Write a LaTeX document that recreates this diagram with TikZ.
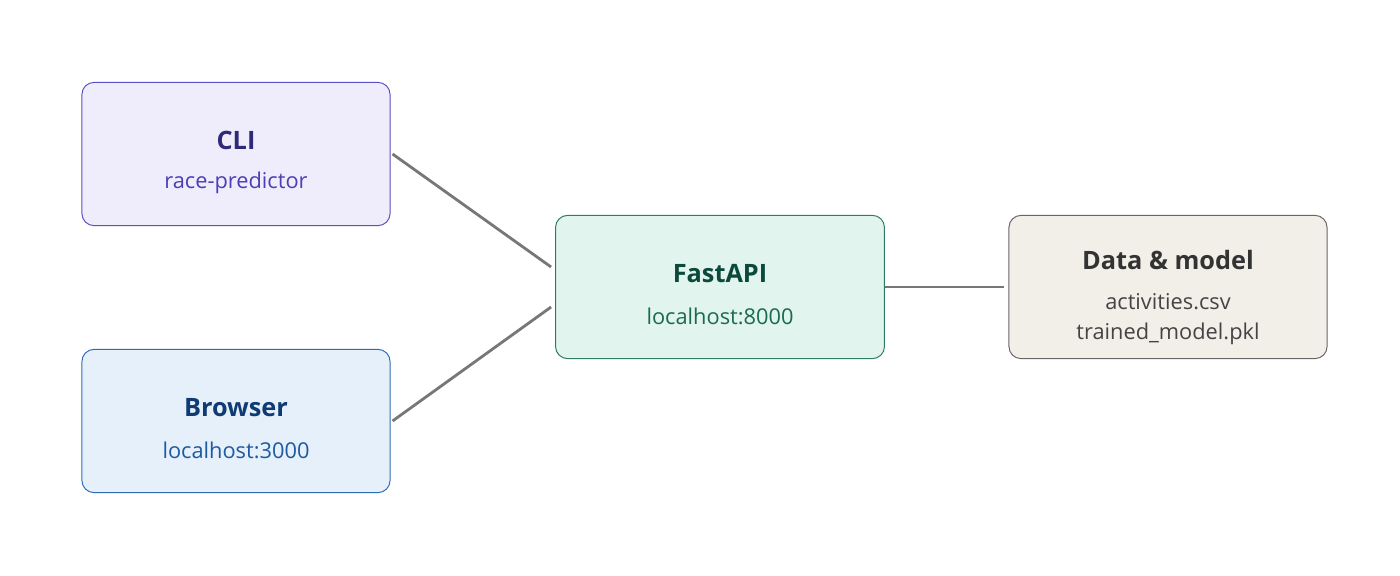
\documentclass[tikz,border=0pt]{standalone}
\usepackage{fontspec}
\setmainfont{Open Sans}
\usetikzlibrary{positioning}
\definecolor{cliFill}{HTML}{EFEDFC}\definecolor{cliLine}{HTML}{5B4FC4}
\definecolor{cliHead}{HTML}{2E2A77}\definecolor{cliSub}{HTML}{4A3FB5}
\definecolor{brFill}{HTML}{E6F0FA}\definecolor{brLine}{HTML}{2F6BB5}
\definecolor{brHead}{HTML}{0E3B73}\definecolor{brSub}{HTML}{1E5AA0}
\definecolor{apiFill}{HTML}{E1F4EE}\definecolor{apiLine}{HTML}{2E7D62}
\definecolor{apiHead}{HTML}{0B4A3A}\definecolor{apiSub}{HTML}{1A6B52}
\definecolor{dataFill}{HTML}{F1EFE8}\definecolor{dataLine}{HTML}{666666}
\definecolor{dataHead}{HTML}{333333}\definecolor{dataSub}{HTML}{444444}
\definecolor{wire}{HTML}{777777}
\tikzset{
  box/.style={rectangle, rounded corners=0.3cm, draw, line width=0.7pt,
    minimum width=7.7cm, minimum height=3.58cm, align=center},
  head/.style={font=\fontsize{18}{20}\selectfont\bfseries},
  sub/.style={font=\fontsize{15.5}{20}\selectfont},
  wire/.style={draw=wire, line width=2pt}
}
\begin{document}
\begin{tikzpicture}[x=0.025cm, y=-0.025cm]
  \useasboundingbox (0,0) rectangle (1400,576);
  % Nodes
  \node [box, fill=cliFill, draw=cliLine] (cli) at (236,154) {};
  \node [head, text=cliHead] at (236,140) {CLI};
  \node [sub, text=cliSub] at (236,183) {race-predictor};

  \node [box, fill=brFill, draw=brLine] (browser) at (236,421) {};
  \node [head, text=brHead] at (236,408) {Browser};
  \node [sub, text=brSub] at (236,450) {localhost:3000};

  \node [box, minimum width=8.22cm, fill=apiFill, draw=apiLine] (api) at (720,287) {};
  \node [head, text=apiHead] at (720,274) {FastAPI};
  \node [sub, text=apiSub] at (720,316) {localhost:8000};

  \node [box, minimum width=7.95cm, fill=dataFill, draw=dataLine] (data) at (1168,287) {};
  \node [head, text=dataHead] at (1168,260) {Data \& model};
  \node [sub, text=dataSub] at (1168,302) {activities.csv};
  \node [sub, text=dataSub] at (1168,334) {trained\_model.pkl};

  % Paths
  \coordinate (apiIn1) at ([xshift=-0.1cm, yshift=0.5cm]api.west);
  \coordinate (apiIn2) at ([xshift=-0.1cm, yshift=-0.5cm]api.west);
  \draw [wire] ([xshift=0.05cm]cli.east) -- (apiIn1);
  \draw [wire] ([xshift=0.05cm]browser.east) -- (apiIn2);
  \draw [wire] (api.east) -- ([xshift=-0.12cm]data.west);
\end{tikzpicture}
\end{document}
